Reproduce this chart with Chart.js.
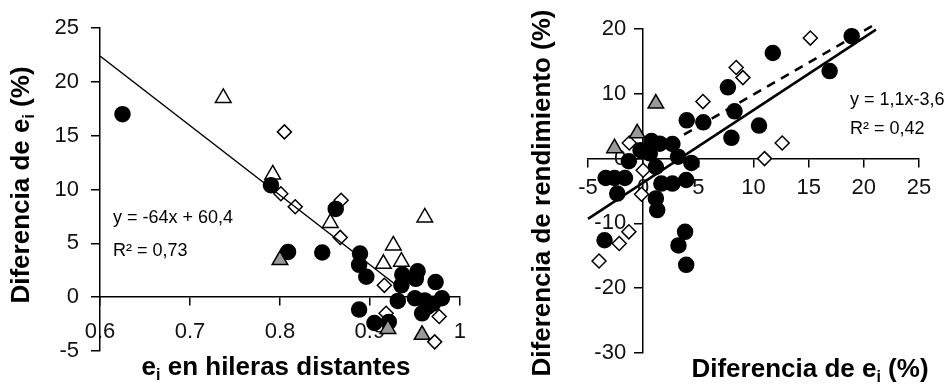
<!DOCTYPE html>
<html>
<head>
<meta charset="utf-8">
<script src="https://cdn.jsdelivr.net/npm/chart.js@4.4.1/dist/chart.umd.min.js"></script>
<style>
  html, body { margin: 0; padding: 0; background: #fff; }
  #wrap { position: relative; width: 952px; height: 389px; }
  .panel { position: absolute; top: 0; height: 389px; }
  #p1 { left: 0; width: 480px; }
  #p2 { left: 480px; width: 472px; }
</style>
</head>
<body>
<div id="wrap">
  <div class="panel" id="p1"><canvas id="grafico-ei" width="480" height="389"></canvas></div>
  <div class="panel" id="p2"><canvas id="grafico-rend" width="472" height="389"></canvas></div>
</div>
<script>
// ---- panel izquierdo: diferencia de ei vs ei en hileras distantes ----
const eiTicksX = [0.6, 0.7, 0.8, 0.9, 1];
const eiLabelsX = ['0.6', '0.7', '0.8', '0.9', '1'];
const eiTicksY = [-5, 0, 5, 10, 15, 20, 25];
const eiLabelsY = ['-5', '0', '5', '10', '15', '20', '25'];

const eiCirculos = [
  [0.625, 17.0], [0.790, 10.4], [0.862, 8.2], [0.809, 4.2], [0.847, 4.15],
  [0.889, 4.05], [0.888, 3.0], [0.896, 1.9], [0.888, -1.15], [0.905, -2.4],
  [0.921, -2.3], [0.931, -0.35], [0.936, 2.1], [0.935, 1.1], [0.953, 2.4],
  [0.951, 1.7], [0.973, 1.4], [0.950, -0.1], [0.961, -0.3], [0.980, -0.1],
  [0.970, -0.6], [0.958, -1.5], [0.964, -0.9]
];
const eiTriangulos = [
  [0.737, 18.5], [0.792, 11.4], [0.856, 6.9], [0.961, 7.4], [0.926, 4.8],
  [0.915, 3.1], [0.935, 3.3]
];
const eiTriangulosGris = [[0.800, 3.45], [0.920, -2.95], [0.958, -3.5]];
const eiRombos = [
  [0.805, 15.35], [0.801, 9.6], [0.817, 8.4], [0.868, 9.0], [0.867, 5.55],
  [0.916, 1.1], [0.918, -1.5], [0.977, -1.8], [0.972, -4.15]
];
const eiTendencia = [[0.6, 22.4], [0.928, 1.2]];

// ---- panel derecho: diferencia de rendimiento vs diferencia de ei ----
const rendTicksX = [-5, 0, 5, 10, 15, 20, 25];
const rendLabelsX = ['-5', '0', '5', '10', '15', '20', '25'];
const rendTicksY = [-30, -20, -10, 0, 10, 20];
const rendLabelsY = ['-30', '-20', '-10', '0', '10', '20'];

const rendCirculos = [
  [18.9, 18.9], [11.75, 16.3], [16.9, 13.5], [7.68, 11.0], [8.28, 7.3],
  [3.95, 5.9], [5.45, 5.6], [10.5, 5.1], [8.0, 3.2], [0.75, 2.7],
  [1.5, 2.3], [2.65, 2.25], [-0.24, 1.3], [0.6, 0.8], [3.16, 0.3],
  [4.37, -0.67], [-1.3, -0.4], [1.15, -1.3], [-3.4, -3.0], [-2.6, -3.0],
  [-1.65, -3.0], [-2.35, -5.4], [1.65, -3.85], [2.65, -3.85], [3.9, -3.3],
  [1.15, -6.15], [1.27, -7.95], [3.8, -11.3], [3.2, -13.4], [3.9, -16.4],
  [-3.5, -12.6]
];
const rendTriangulosGris = [[1.15, 8.5], [-0.54, 3.9], [-2.6, 1.6]];
const rendRombos = [
  [15.15, 18.6], [8.43, 14.05], [9.04, 12.5], [5.42, 8.8], [12.6, 2.4],
  [11.0, 0], [-1.26, 2.4], [0, -1.8], [-0.15, -5.5], [-1.3, -11.3],
  [-2.17, -13.1], [-4.0, -15.8]
];
const rendTendencia = [[-5, -9.3], [21.1, 19.9]];
const rendTendenciaRombos = [[3.7, 3.7], [21.0, 20.7]];

const FUENTE = 'Arial, "Liberation Sans", sans-serif';

const pts = arr => arr.map(p => ({ x: p[0], y: p[1] }));

function serie(data, estilo, radio, relleno, borde) {
  return {
    data: pts(data),
    pointStyle: estilo,
    pointRadius: radio,
    pointHoverRadius: radio,
    backgroundColor: relleno,
    borderColor: borde,
    borderWidth: 1.5,
    clip: false
  };
}

function linea(data, ancho, guiones) {
  return {
    type: 'line',
    data: pts(data),
    showLine: true,
    pointRadius: 0,
    borderColor: '#000',
    borderWidth: ancho,
    borderDash: guiones || [],
    fill: false,
    clip: false
  };
}

function eje(ticks, labels, pos, padding, mostrar) {
  return {
    type: 'linear',
    min: ticks[0],
    max: ticks[ticks.length - 1],
    position: pos,
    afterBuildTicks: s => { s.ticks = ticks.map(v => ({ value: v })); },
    ticks: {
      display: mostrar,
      callback: (v, i) => labels[i],
      font: { family: FUENTE, size: 22 },
      color: '#111',
      padding: padding,
      maxRotation: 0,
      autoSkip: false
    },
    grid: { drawOnChartArea: false, drawTicks: true, tickLength: 8, color: '#000', lineWidth: 1.5 },
    border: { display: true, color: '#000', width: 1.5 }
  };
}

// etiquetas del eje y: con posicion {x: valor} Chart.js las pega al eje,
// asi que se dibujan aparte, debajo de los puntos
function pluginEtiquetasY(valores, etiquetas, cruce, separacion) {
  return {
    id: 'etiquetasY',
    beforeDatasetsDraw(chart) {
      const ctx = chart.ctx;
      const xEje = chart.scales.x.getPixelForValue(cruce);
      ctx.save();
      ctx.font = '22px ' + FUENTE;
      ctx.fillStyle = '#111';
      ctx.textAlign = 'right';
      ctx.textBaseline = 'middle';
      valores.forEach((v, i) => {
        ctx.fillText(etiquetas[i], xEje - separacion, chart.scales.y.getPixelForValue(v));
      });
      ctx.restore();
    }
  };
}

// textos con subindice dibujados sobre el canvas
function dibujarTexto(ctx, t) {
  ctx.save();
  ctx.translate(t.x, t.y);
  if (t.rot) ctx.rotate(t.rot);
  ctx.fillStyle = '#000';
  ctx.textBaseline = 'middle';
  ctx.textAlign = 'left';
  let w = 0;
  t.partes.forEach(p => {
    ctx.font = p.sub ? t.fuenteSub : t.fuente;
    w += ctx.measureText(p.t).width;
  });
  let cx = t.alinear === 'left' ? 0 : -w / 2;
  t.partes.forEach(p => {
    ctx.font = p.sub ? t.fuenteSub : t.fuente;
    ctx.fillText(p.t, cx, p.sub ? t.bajar : 0);
    cx += ctx.measureText(p.t).width;
  });
  ctx.restore();
}

function pluginTextos(textos) {
  return {
    id: 'textos',
    afterDraw(chart) { textos.forEach(t => dibujarTexto(chart.ctx, t)); }
  };
}

const TITULO = 'bold 26px ' + FUENTE;
const TITULO_SUB = 'bold 16px ' + FUENTE;
const NOTA = '18px ' + FUENTE;

// panel izquierdo
new Chart(document.getElementById('grafico-ei').getContext('2d'), {
  type: 'scatter',
  data: {
    datasets: [
      linea(eiTendencia, 1.5),
      serie(eiTriangulosGris, 'triangle', 9, '#999999', '#000'),
      serie(eiCirculos, 'circle', 7.5, '#000', '#000'),
      serie(eiRombos, 'rectRot', 7, '#fff', '#000'),
      serie(eiTriangulos, 'triangle', 9, '#fff', '#000')
    ]
  },
  options: {
    responsive: false,
    animation: false,
    layout: { padding: { left: 100, right: 10, top: 28, bottom: 38 } },
    plugins: { legend: { display: false }, tooltip: { enabled: false } },
    scales: {
      x: eje(eiTicksX, eiLabelsX, { y: 0 }, 14, true),
      y: eje(eiTicksY, eiLabelsY, { x: 0.6 }, 0, false)
    }
  },
  plugins: [
    pluginEtiquetasY(eiTicksY, eiLabelsY, 0.6, 21),
    pluginTextos([
      { x: 22, y: 185, rot: -Math.PI / 2, fuente: TITULO, fuenteSub: TITULO_SUB, bajar: 8,
        partes: [{ t: 'Diferencia de e' }, { t: 'i', sub: true }, { t: ' (%)' }] },
      { x: 276, y: 368, fuente: TITULO, fuenteSub: TITULO_SUB, bajar: 8,
        partes: [{ t: 'e' }, { t: 'i', sub: true }, { t: ' en hileras distantes' }] },
      { x: 113, y: 218, alinear: 'left', fuente: NOTA, partes: [{ t: 'y = -64x + 60,4' }] },
      { x: 113, y: 251, alinear: 'left', fuente: NOTA, partes: [{ t: 'R² = 0,73' }] }
    ])
  ]
});

// panel derecho
new Chart(document.getElementById('grafico-rend').getContext('2d'), {
  type: 'scatter',
  data: {
    datasets: [
      linea(rendTendencia, 2.5),
      linea(rendTendenciaRombos, 2.5, [9, 7]),
      serie(rendTriangulosGris, 'triangle', 9, '#999999', '#000'),
      serie(rendCirculos, 'circle', 7.5, '#000', '#000'),
      serie(rendRombos, 'rectRot', 7, '#fff', '#000')
    ]
  },
  options: {
    responsive: false,
    animation: false,
    layout: { padding: { left: 108, right: 33, top: 29, bottom: 36 } },
    plugins: { legend: { display: false }, tooltip: { enabled: false } },
    scales: {
      x: eje(rendTicksX, rendLabelsX, { y: 0 }, 8, true),
      y: eje(rendTicksY, rendLabelsY, { x: 0 }, 0, false)
    }
  },
  plugins: [
    pluginEtiquetasY(rendTicksY, rendLabelsY, 0, 17),
    pluginTextos([
      { x: 63, y: 193, rot: -Math.PI / 2, fuente: TITULO, fuenteSub: TITULO_SUB, bajar: 8,
        partes: [{ t: 'Diferencia de rendimiento (%)' }] },
      { x: 330, y: 370, fuente: TITULO, fuenteSub: TITULO_SUB, bajar: 8,
        partes: [{ t: 'Diferencia de e' }, { t: 'i', sub: true }, { t: ' (%)' }] },
      { x: 370, y: 100, alinear: 'left', fuente: NOTA, partes: [{ t: 'y = 1,1x-3,6' }] },
      { x: 370, y: 129, alinear: 'left', fuente: NOTA, partes: [{ t: 'R² = 0,42' }] }
    ])
  ]
});
</script>
</body>
</html>
